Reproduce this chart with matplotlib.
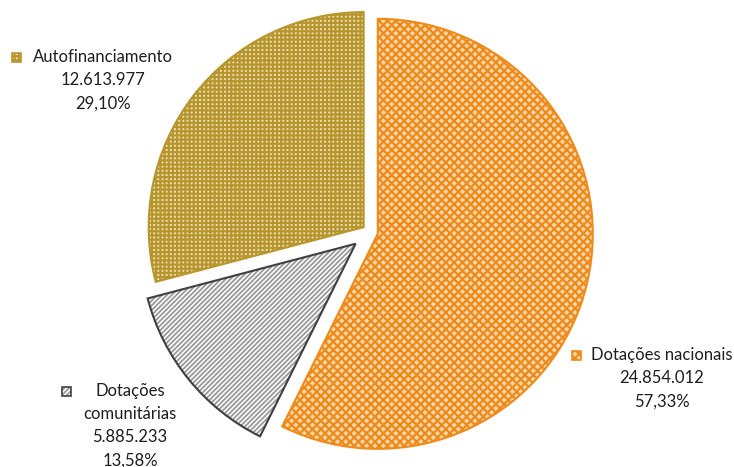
import matplotlib
matplotlib.use('Agg')
import matplotlib.pyplot as plt
from matplotlib.patches import Rectangle

plt.rcParams['font.family'] = ['Lato', 'DejaVu Sans']
plt.rcParams['hatch.linewidth'] = 1.3

# dados
categorias = ['Dotações nacionais', 'Dotações comunitárias', 'Autofinanciamento']
valores = [24854012, 5885233, 12613977]
explode = [8, 18.6, 8]  # em pixels

faces = ['#FBD6A8', 'white', '#EEE2BC']
hatch_cor = ['#EE8A1A', '#999999', '#B8962E']
bordas = ['#EE8A1A', '#404040', '#B8962E']
hatches = ['xxxx', '///////', '++++']
hatch_lw = [1.6, 1.3, 1.6]

# posicoes dos rotulos (pixels, origem em cima a esquerda)
rot_x = [662, 130, 103]
rot_y = [347, 383, 49]
rot_txt = ['Dotações nacionais', 'Dotações\ncomunitárias', 'Autofinanciamento']
chave_x = [572, 62, 12]
chave_y = [355, 391, 57]

W, H = 734, 467
fig = plt.figure(figsize=(W / 100, H / 100), dpi=100)
ax = fig.add_axes([0, 0, 1, 1])

total = sum(valores)

def fmt_num(v):
    return '{:,}'.format(v).replace(',', '.')

def fmt_pct(v):
    return '{:.2f}%'.format(100 * v / total).replace('.', ',')

def estilo_hatch(p, lw):
    if hasattr(p, 'set_hatch_linewidth'):
        p.set_hatch_linewidth(lw)
    else:
        p._hatch_linewidth = lw

centro = (370, H - 232)
raio = 215

# preenchimento com padrao
w1, _ = ax.pie(valores, explode=explode, startangle=90, counterclock=False,
               center=centro, radius=raio, colors=faces,
               wedgeprops=dict(linewidth=0))
for i, w in enumerate(w1):
    w.set_edgecolor(hatch_cor[i])
    w.set_hatch(hatches[i])
    estilo_hatch(w, hatch_lw[i])

# contornos
w2, _ = ax.pie(valores, explode=explode, startangle=90, counterclock=False,
               center=centro, radius=raio)
for w, b in zip(w2, bordas):
    w.set_facecolor('none')
    w.set_edgecolor(b)
    w.set_linewidth(1.5)

# rotulos
for i in range(3):
    txt = rot_txt[i] + '\n' + fmt_num(valores[i]) + '\n' + fmt_pct(valores[i])
    ax.text(rot_x[i], H - rot_y[i], txt, ha='center', va='top', fontsize=12,
            color='#1E1E1E', linespacing=1.55)
    r = Rectangle((chave_x[i], H - chave_y[i] - 4.5), 9, 9, facecolor=faces[i],
                  edgecolor=hatch_cor[i], hatch=hatches[i], linewidth=0)
    estilo_hatch(r, hatch_lw[i])
    ax.add_patch(r)
    r2 = Rectangle((chave_x[i], H - chave_y[i] - 4.5), 9, 9, facecolor='none',
                   edgecolor=bordas[i], linewidth=1.2)
    ax.add_patch(r2)

ax.set_xlim(0, W)
ax.set_ylim(0, H)
ax.set_aspect('equal')
ax.axis('off')

fig.savefig('out.png', dpi=100)
